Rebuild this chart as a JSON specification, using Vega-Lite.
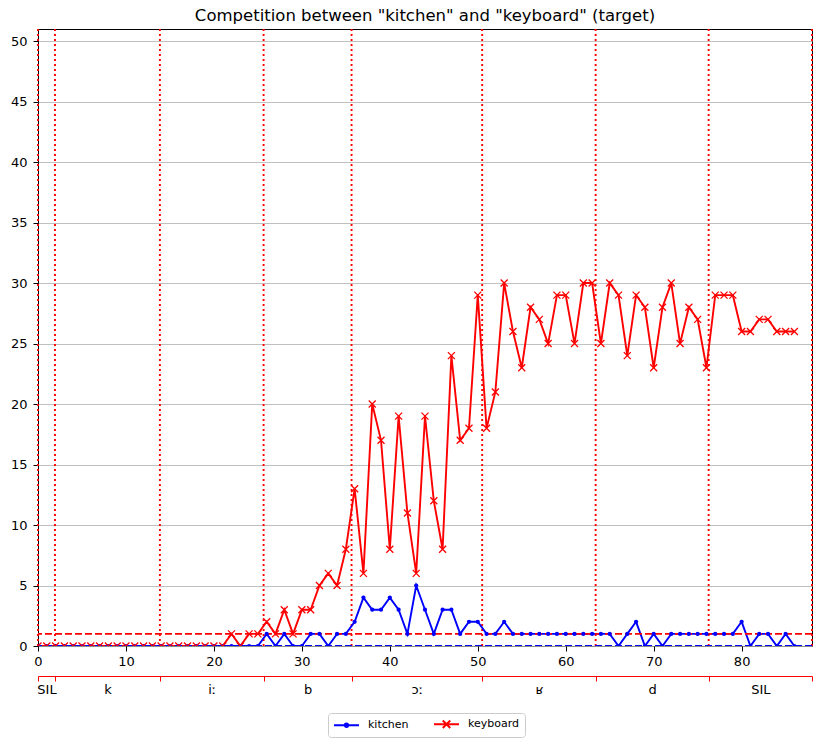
{
  "$schema": "https://vega.github.io/schema/vega-lite/v6.json",
  "width": 774,
  "height": 617,
  "autosize": {"type": "none"},
  "padding": {"left": 38, "top": 29, "right": 13, "bottom": 99},
  "title": {"text": "Competition between \"kitchen\" and \"keyboard\" (target)", "font": "DejaVu Sans", "fontSize": 16.5, "fontWeight": "normal", "color": "black", "offset": 4, "anchor": "middle"},
  "datasets": {
    "frames": [
      {"frame":0,"kitchen":0,"keyboard":0},{"frame":1,"kitchen":0,"keyboard":0},{"frame":2,"kitchen":0,"keyboard":0},{"frame":3,"kitchen":0,"keyboard":0},{"frame":4,"kitchen":0,"keyboard":0},{"frame":5,"kitchen":0,"keyboard":0},{"frame":6,"kitchen":0,"keyboard":0},{"frame":7,"kitchen":0,"keyboard":0},{"frame":8,"kitchen":0,"keyboard":0},{"frame":9,"kitchen":0,"keyboard":0},
      {"frame":10,"kitchen":0,"keyboard":0},{"frame":11,"kitchen":0,"keyboard":0},{"frame":12,"kitchen":0,"keyboard":0},{"frame":13,"kitchen":0,"keyboard":0},{"frame":14,"kitchen":0,"keyboard":0},{"frame":15,"kitchen":0,"keyboard":0},{"frame":16,"kitchen":0,"keyboard":0},{"frame":17,"kitchen":0,"keyboard":0},{"frame":18,"kitchen":0,"keyboard":0},{"frame":19,"kitchen":0,"keyboard":0},
      {"frame":20,"kitchen":0,"keyboard":0},{"frame":21,"kitchen":0,"keyboard":0},{"frame":22,"kitchen":0,"keyboard":1},{"frame":23,"kitchen":0,"keyboard":0},{"frame":24,"kitchen":0,"keyboard":1},{"frame":25,"kitchen":0,"keyboard":1},{"frame":26,"kitchen":1,"keyboard":2},{"frame":27,"kitchen":0,"keyboard":1},{"frame":28,"kitchen":1,"keyboard":3},{"frame":29,"kitchen":0,"keyboard":1},
      {"frame":30,"kitchen":0,"keyboard":3},{"frame":31,"kitchen":1,"keyboard":3},{"frame":32,"kitchen":1,"keyboard":5},{"frame":33,"kitchen":0,"keyboard":6},{"frame":34,"kitchen":1,"keyboard":5},{"frame":35,"kitchen":1,"keyboard":8},{"frame":36,"kitchen":2,"keyboard":13},{"frame":37,"kitchen":4,"keyboard":6},{"frame":38,"kitchen":3,"keyboard":20},{"frame":39,"kitchen":3,"keyboard":17},
      {"frame":40,"kitchen":4,"keyboard":8},{"frame":41,"kitchen":3,"keyboard":19},{"frame":42,"kitchen":1,"keyboard":11},{"frame":43,"kitchen":5,"keyboard":6},{"frame":44,"kitchen":3,"keyboard":19},{"frame":45,"kitchen":1,"keyboard":12},{"frame":46,"kitchen":3,"keyboard":8},{"frame":47,"kitchen":3,"keyboard":24},{"frame":48,"kitchen":1,"keyboard":17},{"frame":49,"kitchen":2,"keyboard":18},
      {"frame":50,"kitchen":2,"keyboard":29},{"frame":51,"kitchen":1,"keyboard":18},{"frame":52,"kitchen":1,"keyboard":21},{"frame":53,"kitchen":2,"keyboard":30},{"frame":54,"kitchen":1,"keyboard":26},{"frame":55,"kitchen":1,"keyboard":23},{"frame":56,"kitchen":1,"keyboard":28},{"frame":57,"kitchen":1,"keyboard":27},{"frame":58,"kitchen":1,"keyboard":25},{"frame":59,"kitchen":1,"keyboard":29},
      {"frame":60,"kitchen":1,"keyboard":29},{"frame":61,"kitchen":1,"keyboard":25},{"frame":62,"kitchen":1,"keyboard":30},{"frame":63,"kitchen":1,"keyboard":30},{"frame":64,"kitchen":1,"keyboard":25},{"frame":65,"kitchen":1,"keyboard":30},{"frame":66,"kitchen":0,"keyboard":29},{"frame":67,"kitchen":1,"keyboard":24},{"frame":68,"kitchen":2,"keyboard":29},{"frame":69,"kitchen":0,"keyboard":28},
      {"frame":70,"kitchen":1,"keyboard":23},{"frame":71,"kitchen":0,"keyboard":28},{"frame":72,"kitchen":1,"keyboard":30},{"frame":73,"kitchen":1,"keyboard":25},{"frame":74,"kitchen":1,"keyboard":28},{"frame":75,"kitchen":1,"keyboard":27},{"frame":76,"kitchen":1,"keyboard":23},{"frame":77,"kitchen":1,"keyboard":29},{"frame":78,"kitchen":1,"keyboard":29},{"frame":79,"kitchen":1,"keyboard":29},
      {"frame":80,"kitchen":2,"keyboard":26},{"frame":81,"kitchen":0,"keyboard":26},{"frame":82,"kitchen":1,"keyboard":27},{"frame":83,"kitchen":1,"keyboard":27},{"frame":84,"kitchen":0,"keyboard":26},{"frame":85,"kitchen":1,"keyboard":26},{"frame":86,"kitchen":0,"keyboard":26}
    ],
    "boundaries": [{"t":0},{"t":1.93},{"t":13.86},{"t":25.65},{"t":35.65},{"t":50.5},{"t":63.4},{"t":76.25},{"t":88}],
    "phones": [
      {"phone":"SIL","mid":0.965},{"phone":"k","mid":7.895},{"phone":"iː","mid":19.755},{"phone":"b","mid":30.65},
      {"phone":"ɔː","mid":43.075},{"phone":"ʁ","mid":56.95},{"phone":"d","mid":69.825},{"phone":"SIL","mid":82.125}
    ]
  },
  "layer": [
    {
      "data": {"name": "boundaries"},
      "mark": {"type": "rule", "color": "red", "strokeWidth": 1.9, "strokeDash": [1.9, 3.1]},
      "encoding": {
        "x": {"field": "t", "type": "quantitative", "scale": {"domain": [0, 88], "nice": false, "zero": false},
              "axis": {"orient": "bottom", "values": [0,1.93,13.86,25.65,35.65,50.5,63.4,76.25,88], "labels": false, "offset": 30, "domain": true, "domainColor": "red", "domainWidth": 1, "tickColor": "red", "tickSize": 5, "tickWidth": 1, "grid": false, "title": null}}
      }
    },
    {
      "data": {"name": "phones"},
      "mark": {"type": "point", "opacity": 0},
      "encoding": {
        "x": {"field": "mid", "type": "quantitative", "scale": {"domain": [0, 88], "nice": false, "zero": false},
              "axis": {"orient": "bottom", "values": [0.965,7.895,19.755,30.65,43.075,56.95,69.825,82.125], "labelExpr": "datum.value < 1.93 ? 'SIL' : datum.value < 13.86 ? 'k' : datum.value < 25.65 ? 'iː' : datum.value < 35.65 ? 'b' : datum.value < 50.5 ? 'ɔː' : datum.value < 63.4 ? 'ʁ' : datum.value < 76.25 ? 'd' : 'SIL'", "ticks": false, "domain": false, "offset": 30, "labelPadding": 7, "grid": false, "title": null}}
      }
    },
    {
      "data": {"name": "frames"},
      "transform": [{"fold": ["kitchen", "keyboard"], "as": ["word", "count"]}],
      "mark": {"type": "line", "strokeWidth": 1.9, "clip": true},
      "encoding": {
        "x": {"field": "frame", "type": "quantitative", "scale": {"domain": [0, 88], "nice": false, "zero": false},
              "axis": {"orient": "bottom", "values": [0,10,20,30,40,50,60,70,80], "format": "d", "tickSize": 5, "labelPadding": 4, "grid": false, "title": null}},
        "y": {"field": "count", "type": "quantitative", "scale": {"domain": [0, 51], "nice": false}, "axis": {"values": [0,5,10,15,20,25,30,35,40,45,50], "title": null}},
        "color": {"field": "word", "type": "nominal", "scale": {"domain": ["kitchen", "keyboard"], "range": ["blue", "red"]},
          "legend": {
            "orient": "none", "legendX": 290, "legendY": 684, "direction": "horizontal", "columns": 2, "title": null,
            "symbolSize": 100, "labelOffset": 23, "columnPadding": 21, "padding": 5,
            "strokeColor": "#cccccc", "fillColor": "white", "cornerRadius": 3,
            "labelFont": "DejaVu Sans", "labelFontSize": 11, "labelColor": "black", "symbolStrokeWidth": 1.9,
            "encoding": {
              "symbols": {
                "shape": {"condition": {"test": "datum.value === 'kitchen'", "value": "M-1,0H4M1.15,0A0.35,0.35,0,1,0,1.85,0A0.35,0.35,0,1,0,1.15,0Z"}, "value": "M-1,0H4M0.75,-0.75L2.25,0.75M0.75,0.75L2.25,-0.75"},
                "stroke": {"condition": {"test": "datum.value === 'kitchen'", "value": "blue"}, "value": "red"},
                "fill": {"condition": {"test": "datum.value === 'kitchen'", "value": "blue"}, "value": "transparent"},
                "strokeWidth": {"value": 1.9},
                "opacity": {"value": 1}
              }
            }
          }
        }
      }
    },
    {
      "data": {"values": [{}]},
      "mark": {"type": "rule", "color": "blue", "strokeWidth": 1.9, "strokeDash": [7, 3], "clip": true},
      "encoding": {"y": {"datum": 0, "type": "quantitative", "scale": {"domain": [0, 51], "nice": false}, "axis": {"values": [0,5,10,15,20,25,30,35,40,45,50], "title": null}}}
    },
    {
      "data": {"values": [{}]},
      "mark": {"type": "rule", "color": "red", "strokeWidth": 1.9, "strokeDash": [7, 3], "clip": true},
      "encoding": {"y": {"datum": 1, "type": "quantitative", "scale": {"domain": [0, 51], "nice": false}, "axis": {"values": [0,5,10,15,20,25,30,35,40,45,50], "title": null}}}
    },
    {
      "data": {"name": "frames"},
      "mark": {"type": "circle", "color": "blue", "size": 18, "opacity": 1, "clip": true},
      "encoding": {
        "x": {"field": "frame", "type": "quantitative", "scale": {"domain": [0, 88], "nice": false, "zero": false}, "axis": null},
        "y": {"field": "kitchen", "type": "quantitative", "scale": {"domain": [0, 51], "nice": false}, "axis": {"values": [0,5,10,15,20,25,30,35,40,45,50], "title": null}}
      }
    },
    {
      "data": {"name": "frames"},
      "mark": {"type": "point", "shape": "M-1,-1L1,1M-1,1L1,-1", "filled": false, "color": "red", "size": 49, "strokeWidth": 1.3, "opacity": 1, "clip": true},
      "encoding": {
        "x": {"field": "frame", "type": "quantitative", "scale": {"domain": [0, 88], "nice": false, "zero": false}, "axis": null},
        "y": {"field": "keyboard", "type": "quantitative", "scale": {"domain": [0, 51], "nice": false}, "axis": {"values": [0,5,10,15,20,25,30,35,40,45,50], "title": null}}
      }
    }
  ],
  "resolve": {"axis": {"x": "independent"}},
  "config": {
    "font": "DejaVu Sans",
    "view": {"stroke": "black", "strokeWidth": 1},
    "axis": {"labelFont": "DejaVu Sans", "labelFontSize": 13, "labelColor": "black", "tickColor": "black", "tickWidth": 1, "domain": false, "labelFlush": false, "labelOverlap": false},
    "axisY": {"grid": true, "gridColor": "#b0b0b0", "gridWidth": 0.8, "tickSize": 5, "labelPadding": 6}
  }
}
